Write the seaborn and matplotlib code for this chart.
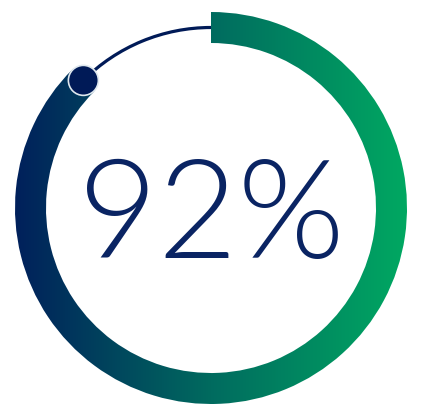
import numpy as np
import matplotlib
matplotlib.use("Agg")
import matplotlib.pyplot as plt
import seaborn as sns
from matplotlib.patches import Wedge, Arc, Circle
from matplotlib.colors import LinearSegmentedColormap

# valeur affichée et part de l'anneau remplie
label_value = [92]
arc_share = [0.875]
ring_colors = ["#00205b", "#006b5f", "#00a862"]
text_color = "#0a2463"

sns.set_theme(style="white")
plt.rcParams['font.family'] = ['Lato', 'DejaVu Sans']

fig = plt.figure(figsize=(4.25, 4.15), dpi=100)
ax = fig.add_axes([0, 0, 1, 1])
ax.set_xlim(0, 425)
ax.set_ylim(0, 415)
ax.set_aspect('equal')
ax.axis('off')

cx, cy = 211, 207
r_out, width = 196, 31
r_mid = r_out - width / 2

# anneau plein, dans le sens horaire depuis le haut
end_angle = (90 - arc_share[0] * 360) % 360
ring = Wedge((cx, cy), r_out, end_angle, 450, width=width,
             facecolor='none', edgecolor='none')
ax.add_patch(ring)

cmap = LinearSegmentedColormap.from_list("ring", ring_colors)
grad = np.linspace(0, 1, 256).reshape(1, -1)
im = ax.imshow(grad, cmap=cmap, aspect='auto',
               extent=[cx - r_out, cx + r_out, cy - r_out, cy + r_out],
               interpolation='bicubic', zorder=1)
im.set_clip_path(ring)

# partie restante : trait fin
rest = Arc((cx, cy), 2 * r_mid, 2 * r_mid, theta1=90, theta2=end_angle,
           color="#001a57", linewidth=2.3, zorder=2)
ax.add_patch(rest)

# point au bout de l'anneau
a = np.deg2rad(end_angle)
ax.add_patch(Circle((cx + r_mid * np.cos(a), cy + r_mid * np.sin(a)), 15,
                    facecolor="#001a57", edgecolor="#dfe8ee", linewidth=1.2, zorder=3))

ax.text(cx, 157, f"{label_value[0]}%", ha='center', va='baseline',
        fontsize=99, fontweight=300, color=text_color, zorder=4)

fig.savefig("out.png", dpi=100, facecolor='white')
